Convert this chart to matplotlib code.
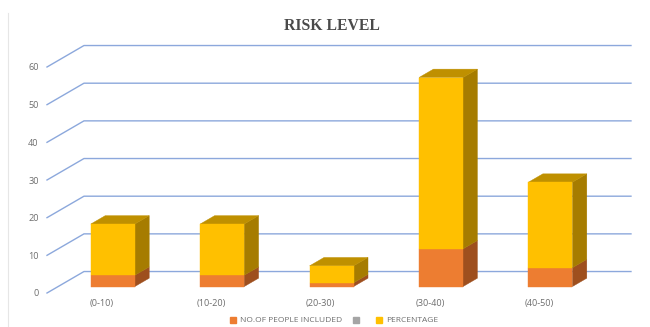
import matplotlib
matplotlib.use("Agg")
import matplotlib.pyplot as plt
from matplotlib.patches import Polygon, Patch
from matplotlib.lines import Line2D

categories = ["(0-10)", "(10-20)", "(20-30)", "(30-40)", "(40-50)"]
people = [3, 3, 1, 10, 5]
percentage = [13.6, 13.6, 4.5, 45.5, 22.7]
y_ticks = [0, 10, 20, 30, 40, 50, 60]

ORANGE, ORANGE_SIDE = "#ED7D31", "#9E4F1E"
YELLOW, YELLOW_SIDE, YELLOW_TOP = "#FFC000", "#A67C00", "#BF9000"
GRID = "#8CA8DC"
TEXT = "#6E6E6E"

# Oblique projection: full depth of the floor in data units
DEPTH_X, DEPTH_Y = 0.338, 5.7
BAR_WIDTH = 0.402
BAR_FRONT, BAR_BACK = 0.30, 0.69


def project(x, v, d):
    return (x + DEPTH_X * d, v + DEPTH_Y * d)


W, H = 650, 327
fig = plt.figure(figsize=(W / 100, H / 100), dpi=100, facecolor="white")
ax = fig.add_axes([47 / W, (H - 293) / H, 547 / W, 226 / H])
ax.set_xlim(-0.5, 4.5)
ax.set_ylim(0, 60)
for spine in ax.spines.values():
    spine.set_visible(False)

ax.set_xticks(range(len(categories)), categories)
ax.set_yticks(y_ticks)
ax.tick_params(axis="both", length=0, labelcolor=TEXT, labelsize=6.6)
ax.tick_params(axis="x", pad=4)
ax.tick_params(axis="y", pad=6)
for lab in ax.get_xticklabels() + ax.get_yticklabels():
    lab.set_family("Open Sans")

# Floor edge and back-wall gridlines
for v in y_ticks:
    pts = [project(-0.5, v, 0), project(-0.5, v, 1), project(4.5, v, 1)]
    ax.add_line(Line2D(*zip(*pts), color=GRID, lw=1.0, clip_on=False, zorder=1))


def add_face(points, color, z):
    ax.add_patch(Polygon(points, closed=True, facecolor=color, edgecolor=color,
                         lw=0.3, clip_on=False, zorder=z))


# Stacked prisms, each with a front, a side and a lid
for i, (a, b) in enumerate(zip(people, percentage)):
    x0, x1 = i - BAR_WIDTH / 2, i + BAR_WIDTH / 2
    segments = [(0, a, ORANGE, ORANGE_SIDE), (a, a + b, YELLOW, YELLOW_SIDE)]
    for v0, v1, front, side in segments:
        add_face([project(x1, v0, BAR_FRONT), project(x1, v0, BAR_BACK),
                  project(x1, v1, BAR_BACK), project(x1, v1, BAR_FRONT)], side, 3)
        add_face([project(x0, v0, BAR_FRONT), project(x1, v0, BAR_FRONT),
                  project(x1, v1, BAR_FRONT), project(x0, v1, BAR_FRONT)], front, 4)
    top = a + b
    add_face([project(x0, top, BAR_FRONT), project(x1, top, BAR_FRONT),
              project(x1, top, BAR_BACK), project(x0, top, BAR_BACK)], YELLOW_TOP, 3)

fig.text(332 / W, 1 - 26.5 / H, "RISK LEVEL", ha="center", va="center",
         family="Liberation Serif", weight="bold", fontsize=11.3, color="#4A4A4A")

handles = [Patch(color=ORANGE), Patch(color="#A5A5A5"), Patch(color=YELLOW)]
labels = ["NO.OF PEOPLE INCLUDED", " ", "PERCENTAGE"]
fig.legend(handles, labels, loc="center", bbox_to_anchor=(334 / W, 1 - 320.5 / H),
           ncols=3, frameon=False, handlelength=0.75, handleheight=0.75,
           handletextpad=0.45, columnspacing=1.3, borderpad=0,
           prop={"family": "Open Sans", "size": 6.0}, labelcolor=TEXT)

# Faint rule down the left edge of the frame
fig.add_artist(Line2D([8 / W, 8 / W], [0, 1 - 13 / H], color="#E6E6E6", lw=0.8))

fig.savefig("out.png", dpi=100)
